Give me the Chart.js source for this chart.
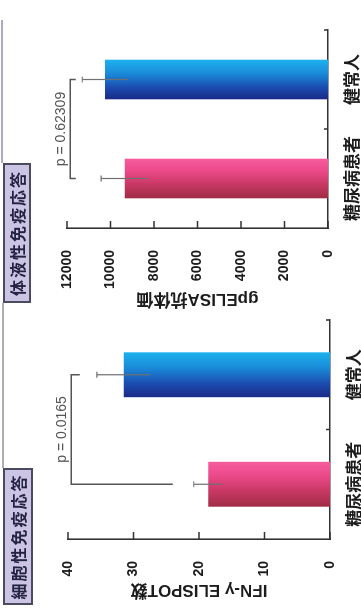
<!DOCTYPE html>
<html>
<head>
<meta charset="utf-8">
<script src="https://cdn.jsdelivr.net/npm/chart.js@4.4.1/dist/chart.umd.min.js"></script>
<style>
  html, body { margin: 0; padding: 0; background: #fff; overflow: hidden; }
  /* the whole figure is laid out upright (608x361) and then turned a quarter left */
  #page { position: absolute; left: 0; top: 0; width: 608px; height: 361px; transform-origin: 0 0; transform: translate(0, 608px) rotate(-90deg); background: #fff; }
  canvas { position: absolute; top: 0; }
  .box { position: absolute; box-sizing: border-box; border: 2px solid #4a4a60; background: #cbc4e2; color: #23233f; font: bold 16px 'Noto Sans CJK JP'; letter-spacing: 2px; text-align: center; white-space: nowrap; }
  .frame { position: absolute; height: 2px; background: #aaacbf; }
</style>
</head>
<body>
<div id="page">
  <div class="frame" style="left:140px; top:2px; width:165px"></div>
  <div class="frame" style="left:445px; top:1px; width:143px"></div>
  <canvas id="cellChart" width="300" height="361" style="left:0"></canvas>
  <canvas id="humChart" width="318" height="361" style="left:290px"></canvas>
  <div class="box" style="left:3px; top:3px; width:137px; height:30px; line-height:26px">細胞性免疫応答</div>
  <div class="box" style="left:305px; top:3px; width:140px; height:28px; line-height:24px">体液性免疫応答</div>
</div>
<script>
const categories = ["糖尿病患者", "健常人"];

// 細胞性免疫応答
const cellMeans = [18.6, 31.5];
const cellErrors = [2.2, 4.1];
const cellTicks = [0, 10, 20, 30, 40];
const cellBracket = [39.5, 24.0, 38.2]; // line, left leg end, right leg end
const cellP = "p = 0.0165";

// 体液性免疫応答
const humMeans = [9350, 10250];
const humErrors = [1080, 1050];
const humTicks = [0, 2000, 4000, 6000, 8000, 10000, 12000];
const humBracket = [11850, 11600, 11600];
const humP = "p = 0.62309";

const barStops = [
  [[0, "#a02c46"], [0.35, "#c83864"], [0.7, "#ec4a8a"], [1, "#f65c9e"]],
  [[0, "#1a2a86"], [0.3, "#1b4cb0"], [0.65, "#1a8ad8"], [1, "#1db2ee"]]
];

const LATIN_CJK = "'Liberation Sans', 'Noto Sans CJK JP', sans-serif";

function barFill(c, barPct) {
  const chart = c.chart;
  const xs = chart.scales.x;
  if (!chart.chartArea || !xs) return barStops[c.dataIndex][1][1];
  const center = xs.getPixelForValue(c.dataIndex);
  const w = xs.width / categories.length * barPct;
  const g = chart.ctx.createLinearGradient(center - w / 2, 0, center + w / 2, 0);
  barStops[c.dataIndex].forEach(([o, col]) => g.addColorStop(o, col));
  return g;
}

const marks = {
  id: "marks",
  afterDatasetsDraw(chart, args, o) {
    const { ctx, scales: { x, y } } = chart;
    ctx.save();

    // axis ticks point into the plot
    ctx.strokeStyle = "#333";
    ctx.lineWidth = 1.5;
    ctx.beginPath();
    y.ticks.forEach((t) => {
      const py = y.getPixelForValue(t.value);
      ctx.moveTo(x.left, py);
      ctx.lineTo(x.left + 7, py);
    });
    for (let i = 1; i <= categories.length; i++) {
      const px = x.left + (i * x.width) / categories.length;
      ctx.moveTo(px, y.bottom);
      ctx.lineTo(px, y.bottom - 4);
    }
    ctx.stroke();

    // error bars
    ctx.strokeStyle = "#707070";
    ctx.lineWidth = 1.2;
    o.means.forEach((m, i) => {
      const px = x.getPixelForValue(i);
      const top = y.getPixelForValue(m + o.errors[i]);
      const bot = y.getPixelForValue(m - o.errors[i]);
      ctx.beginPath();
      ctx.moveTo(px, top);
      ctx.lineTo(px, bot);
      ctx.moveTo(px - 3, top);
      ctx.lineTo(px + 3, top);
      ctx.stroke();
    });

    // significance bracket
    const x0 = x.getPixelForValue(0), x1 = x.getPixelForValue(1);
    const by = y.getPixelForValue(o.bracket[0]);
    ctx.strokeStyle = "#555";
    ctx.lineWidth = 1.5;
    ctx.beginPath();
    ctx.moveTo(x0, y.getPixelForValue(o.bracket[1]));
    ctx.lineTo(x0, by);
    ctx.lineTo(x1, by);
    ctx.lineTo(x1, y.getPixelForValue(o.bracket[2]));
    ctx.stroke();

    ctx.fillStyle = "#555";
    ctx.font = "14px 'Liberation Sans', sans-serif";
    ctx.textAlign = "center";
    ctx.textBaseline = "alphabetic";
    ctx.fillText(o.p, (x0 + x1) / 2, by - 5);
    ctx.restore();
  }
};

function makeChart(id, means, errors, ticks, bracket, pText, yTitle, opt) {
  return new Chart(document.getElementById(id), {
    type: "bar",
    data: {
      labels: categories,
      datasets: [{
        data: means,
        backgroundColor: (c) => barFill(c, opt.barPct),
        borderWidth: 0,
        categoryPercentage: 1,
        barPercentage: opt.barPct
      }]
    },
    options: {
      responsive: false,
      animation: false,
      events: [],
      layout: { padding: { left: 0, right: opt.right, top: opt.top, bottom: 0 } },
      plugins: {
        legend: { display: false },
        tooltip: { enabled: false },
        marks: { means, errors, bracket, p: pText }
      },
      scales: {
        x: {
          grid: { display: false },
          border: { display: true, color: "#333", width: 1.6 },
          ticks: { color: "#1c1c1c", padding: 7, maxRotation: 0, autoSkip: false, font: { family: LATIN_CJK, size: 17, weight: "bold" } },
          afterFit: (s) => { s.height = opt.xHeight; }
        },
        y: {
          min: ticks[0],
          max: ticks[ticks.length - 1],
          afterBuildTicks: (s) => { s.ticks = ticks.map((v) => ({ value: v })); },
          grid: { display: false },
          border: { display: true, color: "#333", width: 1.6 },
          ticks: { color: "#1c1c1c", padding: 14, callback: (v) => String(v), font: { family: LATIN_CJK, size: 14, weight: "bold" } },
          title: { display: true, text: yTitle, color: "#1c1c1c", padding: { top: opt.titlePad, bottom: 0 }, font: { family: LATIN_CJK, size: 17, weight: "bold" } },
          afterFit: (s) => { s.width = opt.yWidth; }
        }
      }
    },
    plugins: [marks]
  });
}

makeChart("cellChart", cellMeans, cellErrors, cellTicks, cellBracket, cellP, "IFN-γ ELISPOT数",
  { barPct: 0.41, right: 12, top: 68, xHeight: 31, yWidth: 69, titlePad: 8 });
makeChart("humChart", humMeans, humErrors, humTicks, humBracket, humP, "gpELISA抗体価",
  { barPct: 0.40, right: 30, top: 67, xHeight: 33, yWidth: 90, titlePad: 9 });
</script>
</body>
</html>
